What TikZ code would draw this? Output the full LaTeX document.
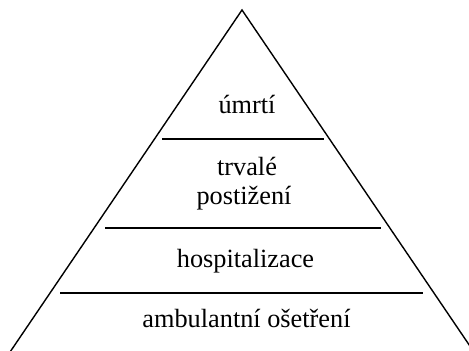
\documentclass[tikz,border=0pt]{standalone}
\usepackage{fontspec}
\setmainfont{Liberation Serif}
\begin{document}
\begin{tikzpicture}[x=1pt,y=1pt,
  edge/.style={line width=1.4pt,line cap=butt},
  lbl/.style={anchor=base,inner sep=0pt,font=\fontsize{26.3}{29}\selectfont}]
\useasboundingbox (0,0) rectangle (469,351);
\begin{scope}
\clip (0,0) rectangle (469,351);
\coordinate (apex) at (242,341);
\coordinate (bl) at (8,-4);
\coordinate (br) at (476,-4);
\draw[edge,line join=miter] (bl) -- (apex) -- (br);
\end{scope}
\coordinate (l1a) at (162,212); \coordinate (l1b) at (324,212);
\coordinate (l2a) at (105,123); \coordinate (l2b) at (381,123);
\coordinate (l3a) at (60,58);   \coordinate (l3b) at (423,58);
\draw[edge] (l1a) -- (l1b);
\draw[edge] (l2a) -- (l2b);
\draw[edge] (l3a) -- (l3b);
\node[lbl] (t1) at (247,237) {úmrtí};
\node[lbl] (t2) at (247,175) {trvalé};
\node[lbl] (t3) at (244,146) {postižení};
\node[lbl] (t4) at (245.5,83) {hospitalizace};
\node[lbl] (t5) at (246.5,23) {ambulantní ošetření};
\end{tikzpicture}
\end{document}
